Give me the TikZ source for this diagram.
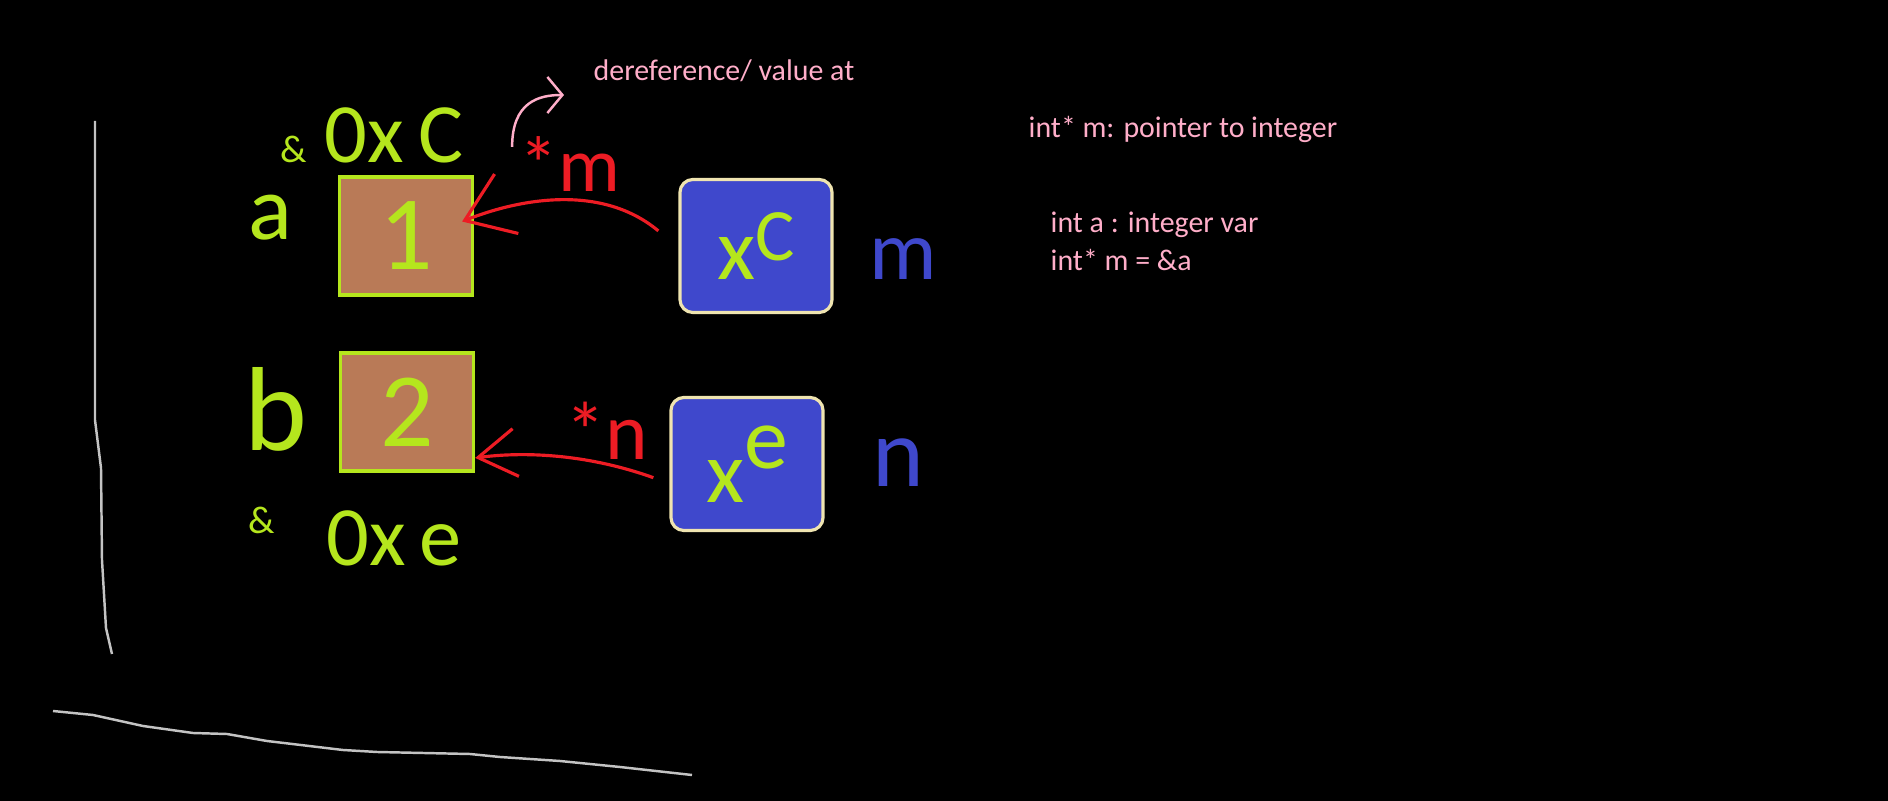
\documentclass[tikz,border=0pt]{standalone}
\usepackage{fontspec}
\setmainfont{Carlito}
\usetikzlibrary{arrows.meta}
\definecolor{chalkgreen}{HTML}{B5E61D}
\definecolor{cellbrown}{HTML}{B97A57}
\definecolor{ptrblue}{HTML}{3F48CC}
\definecolor{cream}{HTML}{EFE4B0}
\definecolor{inkred}{HTML}{ED1C24}
\definecolor{notepink}{HTML}{FFAEC9}
\definecolor{axisgray}{HTML}{C3C3C3}
\newcommand{\fs}[1]{\fontsize{#1}{#1}\selectfont}
\begin{document}
\begin{tikzpicture}[x=0.01cm,y=-0.01cm,
  cell/.style={draw=chalkgreen,line width=0.9pt,fill=cellbrown,minimum width=1.33cm,minimum height=1.18cm,inner sep=0pt,text=chalkgreen,font=\fs{30}},
  ptr/.style={draw=cream,line width=0.9pt,fill=ptrblue,rounded corners=0.13cm,minimum width=1.52cm,minimum height=1.33cm,inner sep=0pt,text=chalkgreen},
  hand/.style={text=chalkgreen,inner sep=0pt},
  note/.style={text=notepink,font=\fs{8.5},anchor=base west,inner sep=0pt},
  arrowto/.style={draw=inkred,line width=0.9pt}]
  \fill[black] (0,0) rectangle (1888,801);
  % Axes
  \draw[axisgray,line width=0.7pt] (95,121) -- (95,420) -- (101,468) -- (102,560) -- (106,628) -- (112,654);
  \draw[axisgray,line width=0.7pt] (53,711) -- (93,715) -- (143,726) -- (193,733) -- (227,734) -- (267,741)
    -- (343,750) -- (377,752) -- (470,754) -- (500,757) -- (560,761) -- (620,767) -- (692,775);
  % Variables
  \node[cell] (abox) at (406,236) {1};
  \node[cell] (bbox) at (407,412) {2};
  \node[hand,font=\fs{26}] (aname) at (270,218) {a};
  \node[hand,font=\fs{34}] (bname) at (276,409) {b};
  \node[hand,font=\fs{11}] (aamp) at (294,149) {\&};
  \node[hand,font=\fs{24}] (aaddr) at (394,135) {0x\,C};
  \node[hand,font=\fs{11}] (bamp) at (262,520) {\&};
  \node[hand,font=\fs{24}] (baddr) at (394,538) {0x\,e};
  % Pointers
  \node[ptr,font=\fs{25}] (mbox) at (756,246) {x\raisebox{5.5pt}{\fs{21}C}};
  \node[ptr,font=\fs{25}] (nbox) at (747,464) {x\raisebox{9.5pt}{e}};
  \node[text=ptrblue,inner sep=0pt,font=\fs{24}] (mname) at (903,259) {m};
  \node[text=ptrblue,inner sep=0pt,font=\fs{28}] (nname) at (898,463) {n};
  \draw[arrowto,-{Straight Barb[length=4.5mm,width=6.4mm]}] ([xshift=-2mm]mbox.169)
    .. controls +(-60,-50) and +(50,-20) .. ([xshift=-1.2mm]abox.12);
  \draw[arrowto,-{Straight Barb[length=3.8mm,width=4.8mm]}] ([xshift=-1.6mm]nbox.190)
    .. controls +(-70,-25) and +(45,-6) .. (bbox.-34);
  \node[text=inkred,inner sep=0pt,font=\fs{22}] (starm) at (570,164) {*m};
  \node[text=inkred,inner sep=0pt,font=\fs{23}] (starn) at (607,431) {*n};
  % Notes
  \node[note] (deref) at (593,81) {dereference/ value at};
  \coordinate (derefend) at (564,95);
  \draw[notepink,line width=0.7pt,-{Straight Barb[length=1.5mm,width=3.6mm]}] ([xshift=-0.7mm,yshift=-1.1mm]starm.north west)
    .. controls +(0,-45) and +(-25,0) .. (derefend);
  \node[note] (ptrnote) at (1028,138) {int* m: pointer to integer};
  \node[note] (varnote) at (1050,233) {int a : integer var};
  \node[note] (assignnote) at (1050,271) {int* m = \&a};
\end{tikzpicture}
\end{document}
